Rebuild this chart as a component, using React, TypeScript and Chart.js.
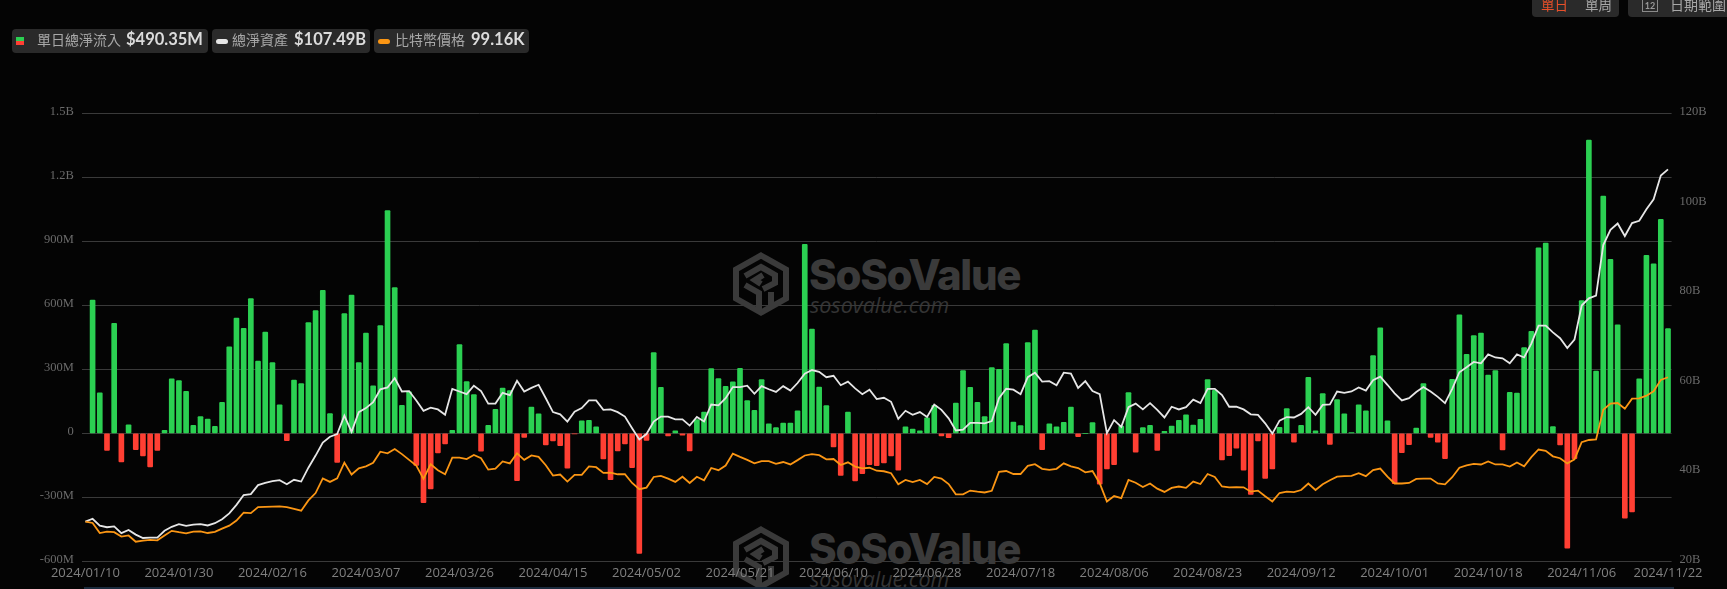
import React, { useEffect, useRef } from "react";
import { Chart, registerables } from "chart.js";

Chart.register(...registerables);

const dates = [
  "2024/01/10","2024/01/11","2024/01/12","2024/01/16","2024/01/17","2024/01/18","2024/01/19","2024/01/22","2024/01/23","2024/01/24","2024/01/25","2024/01/26","2024/01/29","2024/01/30","2024/01/31",
  "2024/02/01","2024/02/02","2024/02/05","2024/02/06","2024/02/07","2024/02/08","2024/02/09","2024/02/12","2024/02/13","2024/02/14","2024/02/15","2024/02/16","2024/02/20","2024/02/21","2024/02/22","2024/02/23","2024/02/26","2024/02/27","2024/02/28","2024/02/29",
  "2024/03/01","2024/03/04","2024/03/05","2024/03/06","2024/03/07","2024/03/08","2024/03/11","2024/03/12","2024/03/13","2024/03/14","2024/03/15","2024/03/18","2024/03/19","2024/03/20","2024/03/21","2024/03/22","2024/03/25","2024/03/26","2024/03/27","2024/03/28",
  "2024/04/01","2024/04/02","2024/04/03","2024/04/04","2024/04/05","2024/04/08","2024/04/09","2024/04/10","2024/04/11","2024/04/12","2024/04/15","2024/04/16","2024/04/17","2024/04/18","2024/04/19","2024/04/22","2024/04/23","2024/04/24","2024/04/25","2024/04/26","2024/04/29","2024/04/30",
  "2024/05/01","2024/05/02","2024/05/03","2024/05/06","2024/05/07","2024/05/08","2024/05/09","2024/05/10","2024/05/13","2024/05/14","2024/05/15","2024/05/16","2024/05/17","2024/05/20","2024/05/21","2024/05/22","2024/05/23","2024/05/24","2024/05/28","2024/05/29","2024/05/30","2024/05/31",
  "2024/06/03","2024/06/04","2024/06/05","2024/06/06","2024/06/07","2024/06/10","2024/06/11","2024/06/12","2024/06/13","2024/06/14","2024/06/17","2024/06/18","2024/06/20","2024/06/21","2024/06/24","2024/06/25","2024/06/26","2024/06/27","2024/06/28",
  "2024/07/01","2024/07/02","2024/07/03","2024/07/05","2024/07/08","2024/07/09","2024/07/10","2024/07/11","2024/07/12","2024/07/15","2024/07/16","2024/07/17","2024/07/18","2024/07/19","2024/07/22","2024/07/23","2024/07/24","2024/07/25","2024/07/26","2024/07/29","2024/07/30","2024/07/31",
  "2024/08/01","2024/08/02","2024/08/05","2024/08/06","2024/08/07","2024/08/08","2024/08/09","2024/08/12","2024/08/13","2024/08/14","2024/08/15","2024/08/16","2024/08/19","2024/08/20","2024/08/21","2024/08/22","2024/08/23","2024/08/26","2024/08/27","2024/08/28","2024/08/29","2024/08/30",
  "2024/09/03","2024/09/04","2024/09/05","2024/09/06","2024/09/09","2024/09/10","2024/09/11","2024/09/12","2024/09/13","2024/09/16","2024/09/17","2024/09/18","2024/09/19","2024/09/20","2024/09/23","2024/09/24","2024/09/25","2024/09/26","2024/09/27","2024/09/30",
  "2024/10/01","2024/10/02","2024/10/03","2024/10/04","2024/10/07","2024/10/08","2024/10/09","2024/10/10","2024/10/11","2024/10/14","2024/10/15","2024/10/16","2024/10/17","2024/10/18","2024/10/21","2024/10/22","2024/10/23","2024/10/24","2024/10/25","2024/10/28","2024/10/29","2024/10/30","2024/10/31",
  "2024/11/01","2024/11/04","2024/11/05","2024/11/06","2024/11/07","2024/11/08","2024/11/11","2024/11/12","2024/11/13","2024/11/14","2024/11/15","2024/11/18","2024/11/19","2024/11/20","2024/11/21","2024/11/22",
];

const shownDates = ["2024/01/10","2024/01/30","2024/02/16","2024/03/07","2024/03/26","2024/04/15","2024/05/02","2024/05/21","2024/06/10","2024/06/28","2024/07/18","2024/08/06","2024/08/23","2024/09/12","2024/10/01","2024/10/18","2024/11/06","2024/11/22"];

// Daily net inflow, $M
const netInflow = [
  null,625,190,-80,515,-134,40,-77,-106,-158,-80,14,255,247,197,37,78,67,33,145,
  405,540,492,631,339,475,331,134,-35,250,233,519,575,670,92,-137,561,648,331,470,
  222,505,1044,683,131,194,-150,-325,-261,-92,-50,14,416,242,181,-84,37,112,212,200,
  -222,-19,123,91,-55,-36,-58,-164,-2,59,61,30,-120,-217,-83,-50,-161,-563,-33,378,
  216,-12,11,-9,-83,64,100,303,256,220,241,305,153,108,252,44,27,48,48,105,
  886,488,217,130,-64,-198,100,-223,-189,-147,-152,-139,-106,-173,30,20,11,73,131,-12,
  -20,142,294,216,145,78,308,300,420,53,36,425,484,-77,44,30,52,123,-16,0,
  50,-238,-167,-147,34,191,-88,27,37,-80,9,34,61,87,39,66,252,202,-125,-105,
  -70,-173,-286,-36,-211,-167,28,116,-42,37,262,12,186,-52,158,91,3,134,105,364,
  494,59,-236,-91,-53,25,233,-19,-41,-119,253,555,370,458,470,273,294,-78,192,188,
  402,478,869,892,31,-55,-539,-119,622,1375,292,1112,816,509,-398,-369,255,834,794,1003,
  490.35,
];

// Total net assets, $B
const netAssets = [
  28.85,29.5,27.96,27.6,27.8,26.3,27.0,25.96,25.2,25.3,25.3,26.8,27.7,28.3,27.9,28.2,28.3,28.0,28.5,29.4,
  30.7,32.6,34.8,35.0,37.0,37.5,37.9,38.1,37.2,38.2,37.8,40.9,43.6,46.5,47.8,48.4,52.5,48.9,53.3,54.2,
  55.5,58.4,58.8,60.9,57.9,58.0,55.9,53.6,54.3,53.9,52.7,58.5,57.9,57.3,59.2,58.0,55.2,55.2,57.6,57.1,
  60.3,57.9,58.7,59.4,56.4,53.3,52.8,51.2,53.4,54.2,55.9,55.9,53.8,53.9,53.3,52.3,49.7,47.2,48.4,51.2,
  52.3,52.3,51.7,51.7,50.3,52.2,51.2,55.0,54.8,56.4,58.9,58.9,59.2,57.4,59.1,58.4,57.8,59.1,58.1,59.8,
  61.9,62.7,62.3,61.1,61.4,59.3,60.1,58.6,57.3,58.3,56.2,56.5,55.6,51.8,53.6,52.7,53.3,52.2,55.0,53.8,
  51.9,49.2,49.4,50.9,50.9,50.8,51.3,56.4,58.5,58.3,57.3,61.1,62.1,60.1,60.2,59.3,62.1,61.9,58.7,60.2,
  58.0,57.3,48.6,51.5,50.0,54.4,55.2,53.9,55.3,53.8,52.1,54.5,53.9,54.4,56.1,55.3,58.5,58.5,57.1,54.5,
  54.5,53.9,52.8,52.7,50.8,48.5,51.4,52.2,52.1,52.9,54.4,52.7,54.9,55.0,57.9,57.6,57.9,58.8,58.1,60.4,
  61.2,59.4,57.5,55.9,56.4,57.8,58.9,57.9,56.7,55.3,58.5,62.2,63.3,64.5,64.2,66.2,65.5,65.3,64.2,66.2,
  65.5,68.6,72.6,72.6,71.1,69.8,67.6,69.5,77.1,78.7,79.3,90.6,94.0,95.4,92.6,95.5,96.0,98.6,100.8,106.1,
  107.49,
];

// Bitcoin price, $K
const btcPrice = [
  46.1,45.6,41.9,42.4,42.2,40.6,41.0,38.7,39.1,39.4,39.2,41.0,42.7,42.2,41.8,42.4,42.5,41.9,42.3,43.5,
  44.6,46.5,49.4,49.2,51.4,51.5,51.6,51.7,51.4,50.8,50.1,53.9,56.6,62.0,60.7,62.0,67.8,63.4,65.7,66.4,
  67.7,71.8,71.2,72.8,70.9,68.8,66.7,61.8,67.2,65.0,63.5,69.6,69.6,69.1,70.6,69.4,65.2,65.6,68.2,67.5,
  71.2,68.8,70.4,69.9,66.8,63.0,63.4,60.8,63.3,63.3,66.4,66.1,64.0,64.1,63.5,63.5,60.3,58.0,58.6,62.5,
  62.9,61.9,60.7,62.6,60.3,62.6,61.3,65.8,65.0,66.7,71.1,69.9,68.8,67.5,68.3,68.3,67.3,68.0,67.1,68.7,
  70.4,70.9,70.5,69.0,69.1,66.9,67.9,66.3,65.7,65.9,64.8,64.6,63.9,59.8,61.4,60.6,61.4,59.9,62.5,61.9,
  59.9,56.1,56.1,57.5,57.1,56.8,57.4,64.4,64.7,63.6,63.6,66.6,67.2,65.5,65.1,65.5,67.5,66.4,65.8,64.2,
  64.7,60.2,53.5,55.5,54.7,61.4,60.4,58.8,60.1,58.2,57.0,58.5,59.0,58.5,60.8,59.9,63.6,62.5,59.0,58.7,
  58.8,58.7,57.1,57.5,55.4,53.5,56.6,57.1,56.9,57.7,60.1,57.7,59.8,61.3,62.6,62.8,62.9,63.9,62.8,65.0,
  65.6,62.6,60.1,60.1,60.3,61.8,61.9,61.9,60.1,59.8,62.4,65.9,66.8,67.3,67.1,68.2,67.1,67.1,66.3,67.8,
  66.4,69.8,72.6,72.1,70.1,69.4,67.5,69.0,75.3,76.1,76.3,87.2,89.5,89.7,87.6,91.3,91.4,92.4,94.0,98.2,
  99.16,
];

const leftTicks: Record<string, string> = { "1500": "1.5B", "1200": "1.2B", "900": "900M", "600": "600M", "300": "300M", "0": "0", "-300": "-300M", "-600": "-600M" };

const COLORS = {
  bg: "#040404", grid: "#3a3a3a", axis: "#6a6a6a", xAxis: "#808080",
  up: "#2bd052", down: "#ff3f33", white: "#e6e6e6", orange: "#fb9614", chip: "#2a2a2a", mark: "#3a3a3a",
};

const W = 1727, H = 589;

function Logo({ top }: { top: number }) {
  return (
    <svg width={56} height={64} viewBox="0 0 56 64" style={{ position: "absolute", left: 733, top }}>
      <g fill="none" stroke={COLORS.mark} strokeWidth={6} strokeLinejoin="miter">
        <polygon points="28,3.5 53,17.5 53,46.5 28,60.5 3,46.5 3,17.5" />
        <path d="M12 24 L28 15 L42 23 L42 31 L30 37" />
        <path d="M30 23 L22 28 L28 32" />
        <path d="M12 33 L26 41 L26 58" />
        <path d="M38 40 L38 53" />
      </g>
    </svg>
  );
}

function Watermark({ top }: { top: number }) {
  return (
    <>
      <Logo top={top} />
      <div style={{ position: "absolute", left: 809, top: top - 5, font: "800 42px Inter, sans-serif", letterSpacing: "-1.3px", color: COLORS.mark, whiteSpace: "nowrap", lineHeight: "56px" }}>SoSoValue</div>
      <div style={{ position: "absolute", left: 810, top: top + 39, font: "italic 400 21.5px 'Open Sans', sans-serif", color: "#343434", whiteSpace: "nowrap", lineHeight: "28px" }}>sosovalue.com</div>
    </>
  );
}

const chipLabel: React.CSSProperties = { position: "absolute", top: 29, height: 24, lineHeight: "24px", font: "400 14px 'Noto Sans CJK TC'", color: "#a8a8a8", whiteSpace: "nowrap" };
const chipValue: React.CSSProperties = { position: "absolute", top: 29, height: 24, lineHeight: "24px", font: "700 16.5px Lato, sans-serif", color: "#dcdcdc", whiteSpace: "nowrap" };

function Box({ left, width, top = 29, height = 24 }: { left: number; width: number; top?: number; height?: number }) {
  return <div style={{ position: "absolute", left, width, top, height, background: COLORS.chip, borderRadius: 4 }} />;
}

export default function App() {
  const ref = useRef<HTMLCanvasElement | null>(null);

  useEffect(() => {
    if (!ref.current) return;
    const chart = new Chart(ref.current, {
      type: "bar",
      data: {
        labels: dates,
        datasets: [
          {
            type: "line", label: "總淨資產", data: netAssets, yAxisID: "yAssets",
            borderColor: COLORS.white, borderWidth: 1.8, pointRadius: 0, tension: 0, order: 1,
          },
          {
            type: "line", label: "比特幣價格", data: btcPrice, yAxisID: "yPrice",
            borderColor: COLORS.orange, borderWidth: 1.8, pointRadius: 0, tension: 0, order: 0,
          },
          {
            type: "bar", label: "單日總淨流入", data: netInflow, yAxisID: "yFlow",
            backgroundColor: netInflow.map((v) => ((v ?? 0) >= 0 ? COLORS.up : COLORS.down)),
            barThickness: 5, borderRadius: 1, borderSkipped: false, order: 2,
          },
        ] as any,
      },
      options: {
        animation: false,
        responsive: false,
        layout: { padding: { top: 113.3, left: 0, right: 0, bottom: 0 } },
        plugins: { legend: { display: false }, tooltip: { enabled: false } },
        scales: {
          x: {
            type: "category", offset: true,
            grid: { display: false, drawTicks: false }, border: { display: false },
            ticks: {
              autoSkip: false, maxRotation: 0, minRotation: 0, padding: 4, color: COLORS.xAxis,
              font: { family: "'Open Sans', sans-serif", size: 13 },
              callback(this: any, v: any) {
                const d = dates[v as number];
                return shownDates.includes(d) ? d : null;
              },
            },
            afterFit: (s: any) => { s.height = H - 561.3; },
          },
          yFlow: {
            position: "left", min: -600, max: 1500,
            grid: { color: COLORS.grid, lineWidth: 1, drawTicks: false }, border: { display: false },
            ticks: {
              stepSize: 300, padding: 8, color: COLORS.axis, labelOffset: -1.5,
              font: { family: "'Liberation Serif', serif", size: 12.5 },
              callback: (v: any) => leftTicks[String(v)],
            },
            afterFit: (s: any) => { s.width = 81.8; },
          },
          yAssets: {
            position: "right", min: 20, max: 120,
            grid: { display: false, drawTicks: false }, border: { display: false },
            ticks: {
              stepSize: 20, padding: 8, color: COLORS.axis, labelOffset: -1.5,
              font: { family: "'Liberation Serif', serif", size: 12.5 },
              callback: (v: any) => `${v}B`,
            },
            afterFit: (s: any) => { s.width = W - 1671.6; },
          },
          yPrice: { display: false, min: 31.5, max: 196.2 },
        },
      } as any,
    });
    return () => chart.destroy();
  }, []);

  return (
    <div style={{ position: "fixed", left: 0, top: 0, width: W, height: H, background: COLORS.bg, overflow: "hidden" }}>
      <Watermark top={252} />
      <Watermark top={526} />
      <div style={{ position: "absolute", left: 84, width: 1590, top: 587, height: 2, background: "#1b2b3d" }} />
      <canvas ref={ref} width={W} height={H} style={{ position: "absolute", left: 0, top: 0, width: W, height: H }} />

      <Box left={12} width={196} />
      <Box left={212} width={158} />
      <Box left={374} width={155} />

      <div style={{ position: "absolute", left: 16, top: 37, width: 8, height: 4, background: COLORS.up }} />
      <div style={{ position: "absolute", left: 16, top: 41, width: 8, height: 4, background: COLORS.down }} />
      <div style={{ ...chipLabel, left: 37 }}>單日總淨流入</div>
      <div style={{ ...chipValue, left: 126 }}>$490.35M</div>

      <div style={{ position: "absolute", left: 216, top: 38.5, width: 12, height: 5, borderRadius: 2.5, background: COLORS.white }} />
      <div style={{ ...chipLabel, left: 232 }}>總淨資產</div>
      <div style={{ ...chipValue, left: 294 }}>$107.49B</div>

      <div style={{ position: "absolute", left: 378, top: 38.5, width: 12, height: 5, borderRadius: 2.5, background: COLORS.orange }} />
      <div style={{ ...chipLabel, left: 395 }}>比特幣價格</div>
      <div style={{ ...chipValue, left: 471 }}>99.16K</div>

      <Box left={1532} width={87} top={-8} height={25} />
      <div style={{ position: "absolute", left: 1541, top: -6, lineHeight: "20px", font: "400 13.5px 'Noto Sans CJK TC'", color: "#e8502a" }}>單日</div>
      <div style={{ position: "absolute", left: 1585, top: -6, lineHeight: "20px", font: "400 13.5px 'Noto Sans CJK TC'", color: "#a8a8a8" }}>單周</div>
      <Box left={1628} width={110} top={-8} height={25} />
      <div style={{ position: "absolute", left: 1642, top: -2, width: 14, height: 12, border: "1.5px solid #8a8a8a", boxSizing: "content-box", font: "700 9px Lato, sans-serif", color: "#9a9a9a", textAlign: "center", lineHeight: "13px" }}>12</div>
      <div style={{ position: "absolute", left: 1670, top: -6, lineHeight: "20px", font: "400 14px 'Noto Sans CJK TC'", color: "#a8a8a8", whiteSpace: "nowrap" }}>日期範圍</div>
    </div>
  );
}
